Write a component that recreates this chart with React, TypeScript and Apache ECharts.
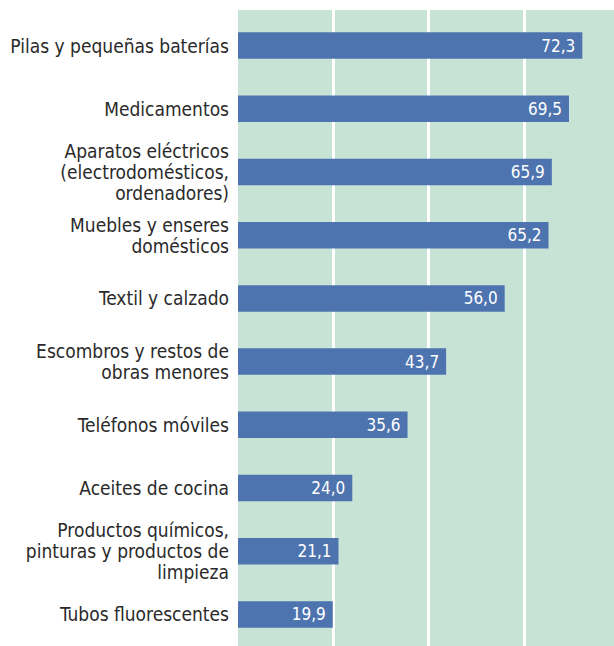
import React, { useEffect, useRef } from "react";
import * as echarts from "echarts";

const categories = [
  "Pilas y pequeñas baterías",
  "Medicamentos",
  "Aparatos eléctricos\n(electrodomésticos,\nordenadores)",
  "Muebles y enseres\ndomésticos",
  "Textil y calzado",
  "Escombros y restos de\nobras menores",
  "Teléfonos móviles",
  "Aceites de cocina",
  "Productos químicos,\npinturas y productos de\nlimpieza",
  "Tubos fluorescentes",
];
const values = [72.3, 69.5, 65.9, 65.2, 56.0, 43.7, 35.6, 24.0, 21.1, 19.9];
const axisMin = 0;
const axisMax = 80;
const axisInterval = 20;

const FONT = "'Liberation Sans Narrow', 'DejaVu Sans Condensed', 'Roboto Condensed', sans-serif";

export default function App() {
  const ref = useRef<HTMLDivElement>(null);
  useEffect(() => {
    if (!ref.current) return;
    const chart = echarts.init(ref.current, null, { renderer: "svg" });
    chart.setOption({
      animation: false,
      grid: [
        {
          left: 238,
          right: 0,
          top: 10,
          bottom: 0,
          show: true,
          backgroundColor: "#c6e3d6",
          borderWidth: 0,
        },
        { left: 238, right: 0, top: 14, bottom: -1 },
      ],
      xAxis: [
        {
          gridIndex: 0,
          type: "value",
          min: axisMin,
          max: axisMax,
          interval: axisInterval,
          axisLine: { show: false },
          axisTick: { show: false },
          axisLabel: { show: false },
          splitLine: {
            show: true,
            showMinLine: false,
            showMaxLine: false,
            lineStyle: { color: "#ffffff", width: 3 },
          },
        },
        {
          gridIndex: 1,
          type: "value",
          min: axisMin,
          max: axisMax,
          interval: axisInterval,
          show: false,
          splitLine: { show: false },
        },
      ],
      yAxis: [
        {
          gridIndex: 0,
          type: "value",
          min: 0,
          max: 1,
          show: false,
          splitLine: { show: false },
        },
        {
          gridIndex: 1,
          type: "category",
          data: categories,
          inverse: true,
          axisLine: { show: false },
          axisTick: { show: false },
          splitLine: { show: false },
          axisLabel: {
            margin: 9,
            color: "#2a2a2a",
            fontFamily: FONT,
            fontSize: 19,
            lineHeight: 21,
            align: "right",
          },
        },
      ],
      series: [
        {
          type: "bar",
          xAxisIndex: 1,
          yAxisIndex: 1,
          data: values,
          barWidth: 26.5,
          itemStyle: { color: "#4e74b0" },
          label: {
            show: true,
            position: "insideRight",
            distance: 7,
            color: "#ffffff",
            fontFamily: FONT,
            fontSize: 17,
            formatter: (p: any) => Number(p.value).toFixed(1).replace(".", ","),
          },
        },
      ],
    });
    return () => chart.dispose();
  }, []);
  return (
    <div style={{ position: "fixed", left: 0, top: 0, width: 614, height: 646, overflow: "hidden", background: "#ffffff" }}>
      <div ref={ref} style={{ width: 619, height: 646 }} />
    </div>
  );
}
